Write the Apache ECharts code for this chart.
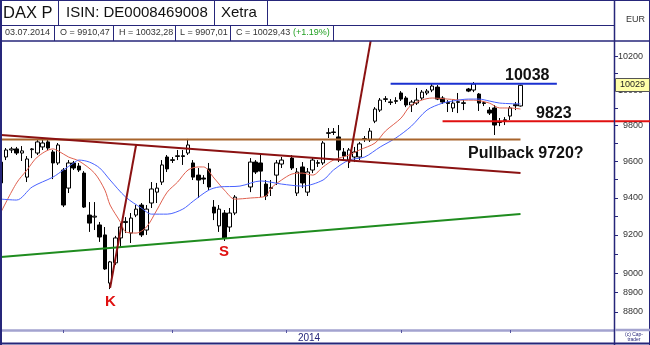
<!DOCTYPE html>
<html><head><meta charset="utf-8">
<script src="https://cdn.jsdelivr.net/npm/echarts@6/dist/echarts.min.js"></script>
<style>html,body{margin:0;padding:0;background:#fff}#c{width:650px;height:345px}</style>
</head><body><div id="c"></div>
<script>
// ---- data (weekday slots from 13.02.2014; null = holiday) ----
const opens  = [9480,9623,9662,9668,9645,9512,9664,9645,9679,9707,9651,9590,9551,9452,9590,9573,9534,9306,9295,9253,9200,8948,9053,9184,9266,9210,9306,9360,9226,9371,9430,9485,9623,9604,9626,9630,9645,9590,9523,9507,9557,9349,9248,9317,9242,9317,null,null,9458,9595,9590,9474,9450,9523,9584,null,9617,9425,9568,9430,9551,9588,9590,9755,9763,9735,9651,9606,9623,9623,9722,9718,9824,9887,9948,9930,9941,9985,9956,9916,9927,9956,9985,10002,10019,9956,9930,9899,9931,9925,10008,10002,9979,9929,9887,9899,9821,9828,9853,9918,9910.47];
const closes = [9595,9662,9668,9645,9657,9612,9668,9707,9701,9673,9590,9690,9360,9590,9562,9551,9349,9263,9300,9189,9021,9058,9184,9242,9272,9290,9338,9200,9338,9447,9452,9579,9557,9608,9630,9626,9690,9512,9496,9501,9458,9317,9338,9184,9317,9403,null,null,9595,9540,9545,9409,9455,9590,9606,null,9562,9540,9480,9540,9606,9592,9701,9759,9760,9662,9628,9662,9651,9696,9726,9768,9893,9944,9952,9934,9937,9950,9916,9933,9944,9990,9996,10025,9950,9933,9925,9927,9935,9929,9996,10037,9927,9925,9870,9802,9817,9832,9899,9912,10029.43];
const lows   = [9463,9606,9645,9634,9601,9485,9617,9634,9662,9662,9501,9579,9349,9425,9551,9540,9344,9216,9226,9163,9016,8917,9042,9131,9210,9157,9295,9189,9200,9344,9371,9469,9540,9590,9606,9579,9634,9496,9398,9474,9441,9279,9216,9168,9216,9306,null,null,9430,9529,9403,9387,9409,9469,9562,null,9551,9409,9452,9409,9534,9568,9579,9729,9746,9595,9606,9562,9595,9606,9707,9707,9813,9876,9933,9916,9922,9939,9904,9876,9916,9944,9973,9990,9944,9922,9876,9876,9870,9887,9990,9990,9882,9910,9859,9746,9796,9802,9830,9887,9907.01];
const highs  = [9606,9673,9679,9679,9684,9628,9673,9718,9724,9729,9662,9701,9562,9606,9601,9590,9545,9376,9376,9269,9242,9063,9195,9263,9295,9317,9360,9371,9360,9485,9480,9606,9634,9623,9662,9662,9724,9606,9562,9523,9590,9387,9360,9333,9344,9414,null,null,9617,9606,9645,9496,9496,9606,9623,null,9634,9562,9595,9562,9623,9606,9712,9785,9785,9802,9673,9673,9679,9707,9740,9785,9904,9956,9967,9950,9961,9996,9967,9944,10014,10002,10008,10037,10031,9967,9944,9944,9985,9944,10014,10048,9985,9939,9904,9916,9842,9847,9910,9933,10032.28];
const slotCount = 119;
const monthTickSlots = [12, 33, 55, 77, 98];
const redMA  = [[0,9322],[3,9480],[5,9551],[7,9623],[10,9668],[11,9657],[13,9623],[15,9601],[18,9534],[20,9441],[21,9360],[23,9268],[24,9216],[26,9210],[28,9242],[30,9333],[32,9430],[34,9485],[36,9551],[38,9568],[39,9568],[41,9507],[43,9441],[45,9392],[48,9398],[51,9409],[52,9452],[54,9496],[56,9529],[58,9534],[60,9523],[62,9568],[64,9606],[67,9634],[69,9662],[72,9701],[74,9768],[77,9841],[79,9916],[83,9956],[86,9950],[89,9944],[91,9944],[94,9927],[96,9899],[98,9899],[100,9893]];
const blueMA = [[0,9392],[3,9387],[6,9458],[10,9512],[12,9551],[14,9590],[15,9606],[17,9595],[19,9562],[21,9496],[24,9403],[27,9344],[29,9311],[32,9311],[35,9338],[37,9381],[40,9441],[42,9458],[46,9463],[50,9491],[54,9474],[58,9463],[62,9496],[64,9551],[67,9606],[70,9623],[73,9679],[76,9729],[79,9796],[82,9887],[85,9927],[87,9939],[90,9950],[92,9950],[94,9939],[96,9927],[100,9922]];
const resistanceLine = [[0,9746],[100,9534]];
const pullbackLine = [[0,9720],[100,9720]];
const supportLine = [[0,9084],[100,9312]];
const highLine = [[75,10038],[107,10038]];
const level9823 = [[85,9823],[118,9823]];
const steepLine1 = [[21,8923],[26,9690]];
const steepLine2 = [[67,9590],[72,10438]];
const yLabelValues = [8800,8900,9000,9200,9400,9600,9800,10000,10200];
const yTickValues = [8800,8900,9000,9100,9200,9300,9400,9500,9600,9700,9800,9900,10000,10100,10200];
const lastClose = 10029.43;

// ---- build ----
const slots = [];
for (let i = 0; i < slotCount; i++) slots.push(String(i));
const candleData = opens.map((o, i) => o == null ? '-' : [o, closes[i], lows[i], highs[i]]);
const navy = '#26267a';
const FONT = '"Liberation Sans", Arial, sans-serif';

function lineSeries(data, color, width, extra) {
  return Object.assign({
    type: 'line', data: data, symbol: 'none', silent: true,
    lineStyle: { color: color, width: width }, z: 4
  }, extra || {});
}
function txt(text, x, y, size, color, weight, align, z) {
  return { type: 'text', z: z || 100, style: { text: text, x: x, y: y, fill: color,
    font: (weight || 'normal') + ' ' + size + 'px ' + FONT,
    align: align || 'left', verticalAlign: 'middle', textAlign: align || 'left', textVerticalAlign: 'middle' } };
}
function ln(x1, y1, x2, y2, color, w) {
  return { type: 'line', z: 90, shape: { x1: x1, y1: y1, x2: x2, y2: y2 }, style: { stroke: color, lineWidth: w || 1 } };
}

const chart = echarts.init(document.getElementById('c'), null, { renderer: 'canvas' });
const option = {
  animation: false,
  backgroundColor: '#ffffff',
  grid: { left: 1, right: 36, top: 41, bottom: 15, containLabel: false, outerBoundsMode: 'none' },
  xAxis: {
    type: 'category', data: slots, boundaryGap: false,
    axisLine: { show: true, lineStyle: { color: '#a3a3cf', width: 2.5 } },
    axisTick: { show: true, length: 3, interval: (idx) => monthTickSlots.indexOf(idx) >= 0, lineStyle: { color: '#5555a0' } },
    axisLabel: { show: false },
    splitLine: { show: false }
  },
  yAxis: {
    type: 'log', logBase: 10, position: 'right', min: 8709, max: 10289,
    axisLine: { show: false },
    axisTick: { show: false },
    axisLabel: { show: false },
    splitLine: { show: false }
  },
  series: [
    { type: 'candlestick', data: candleData, barWidth: 4, z: 2,
      itemStyle: { color: '#ffffff', color0: '#000000', borderColor: '#000000', borderColor0: '#000000', borderWidth: 1 } },
    lineSeries(redMA, '#e0604f', 1, { smooth: 0.3 }),
    lineSeries(blueMA, '#4a63ff', 1, { smooth: 0.3 }),
    lineSeries(pullbackLine, '#a8642c', 2),
    lineSeries(resistanceLine, '#8b1212', 2),
    lineSeries(supportLine, '#1f8c1f', 2),
    lineSeries(highLine, '#1a30d0', 2),
    lineSeries(level9823, '#e01010', 2),
    lineSeries(steepLine1, '#8b1212', 2),
    lineSeries(steepLine2, '#8b1212', 2)
  ]
};
chart.setOption(option);

const yOf = (v) => chart.convertToPixel({ yAxisIndex: 0 }, v);
const yLevel = yOf(9823);
const yClose = yOf(lastClose);

const g = [
  { type: 'rect', z: 80, shape: { x: 0, y: 0, width: 650, height: 41 }, style: { fill: '#ffffff' } },
  { type: 'rect', z: 80, shape: { x: 615, y: 41, width: 35, height: 304 }, style: { fill: '#ffffff' } },
  ln(0, 0.5, 650, 0.5, navy, 1),
  ln(1, 0, 1, 345, navy, 2),
  ln(649.5, 0, 649.5, 345, navy, 1),
  ln(0, 25.5, 614, 25.5, navy, 1),
  ln(0, 41, 650, 41, navy, 1.5),
  ln(614.5, 0, 614.5, 345, navy, 1.5),
  ln(58.5, 0, 58.5, 25, navy, 1), ln(214.5, 0, 214.5, 25, navy, 1), ln(267.5, 0, 267.5, 25, navy, 1),
  ln(54.5, 25, 54.5, 41, navy, 1), ln(113.5, 25, 113.5, 41, navy, 1), ln(175.5, 25, 175.5, 41, navy, 1),
  ln(230.5, 25, 230.5, 41, navy, 1), ln(333.5, 25, 333.5, 41, navy, 1),
  ln(615, 330, 650, 330, '#a3a3cf', 2.5),
  ln(0, 343.5, 650, 343.5, navy, 2),
  ln(615, yLevel, 650, yLevel, '#e01010', 2),
  txt('DAX P', 3, 13, 16.5, '#111'),
  txt('ISIN: DE0008469008', 66, 13, 15, '#111'),
  txt('Xetra', 221, 13, 15, '#111'),
  txt('03.07.2014', 5, 33, 9, '#333'),
  txt('O = 9910,47', 60, 33, 9, '#333'),
  txt('H = 10032,28', 119, 33, 9, '#333'),
  txt('L = 9907,01', 180, 33, 9, '#333'),
  txt('C = 10029,43', 236, 33, 9, '#333'),
  txt('(+1.19%)', 293, 33, 9, '#22a022'),
  txt('EUR', 626, 20, 9, '#333'),
  txt('2014', 309, 338, 10, navy, 'normal', 'center'),
  txt('10038', 505, 76, 16, '#111', 'bold'),
  txt('9823', 536, 114, 16, '#111', 'bold'),
  txt('Pullback 9720?', 468, 154, 16, '#111', 'bold'),
  txt('K', 105, 302, 15, '#e01010', 'bold'),
  txt('S', 219, 252, 15, '#e01010', 'bold')
];
yTickValues.forEach((v) => { const y = Math.round(yOf(v)) + 0.5; g.push(ln(615, y, 618, y, navy, 1)); });
yLabelValues.forEach((v) => { g.push(txt(String(v), 643, yOf(v), 9, '#333', 'normal', 'right')); });
g.push({ type: 'rect', z: 110, shape: { x: 615.5, y: Math.round(yClose) - 6.5, width: 34, height: 13 }, style: { fill: '#ffffa8', stroke: '#555', lineWidth: 1 } });
g.push(txt('10029', 620, Math.round(yClose), 9, '#222', 'normal', 'left', 120));
g.push(txt('(c) Cap-', 634, 335, 5, navy, 'normal', 'center'));
g.push(txt('trader', 634, 340, 5, navy, 'normal', 'center'));
chart.setOption({ graphic: { elements: g } });
</script>
</body></html>
